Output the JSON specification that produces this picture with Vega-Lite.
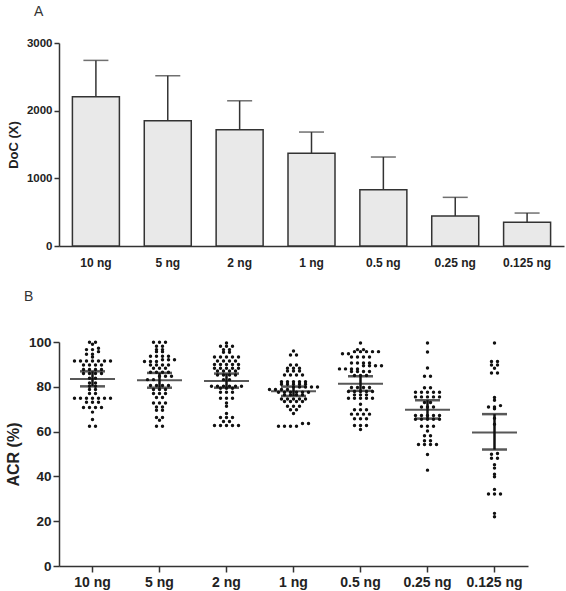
{
"$schema":"https://vega.github.io/schema/vega-lite/v6.json",
"background":"white",
"config":{"view":{"stroke":null},"axis":{"grid":false,"domainColor":"#333","domainWidth":1.5,"tickColor":"#333","tickWidth":1.5,"labelFont":"Liberation Sans","labelFontWeight":"bold","labelColor":"#222","titleFont":"Liberation Sans","titleColor":"#222","titleFontWeight":"bold"},"title":{"font":"Liberation Sans","fontWeight":"normal","color":"#333","fontSize":14,"anchor":"start","frame":"group"}},
"datasets":{
"doc":[
{"dose":"10 ng","mean":2205,"upper":2743},
{"dose":"5 ng","mean":1851,"upper":2516},
{"dose":"2 ng","mean":1718,"upper":2146},
{"dose":"1 ng","mean":1369,"upper":1684},
{"dose":"0.5 ng","mean":832,"upper":1315},
{"dose":"0.25 ng","mean":443,"upper":719},
{"dose":"0.125 ng","mean":350,"upper":487}
],
"summary":[
{"dose":"10 ng","mean":83.5,"lo":80.2,"hi":86.9},
{"dose":"5 ng","mean":82.9,"lo":79.6,"hi":86.2},
{"dose":"2 ng","mean":82.6,"lo":79.6,"hi":85.9},
{"dose":"1 ng","mean":78.0,"lo":75.9,"hi":80.1},
{"dose":"0.5 ng","mean":81.4,"lo":78.2,"hi":84.7},
{"dose":"0.25 ng","mean":69.8,"lo":65.8,"hi":74.0},
{"dose":"0.125 ng","mean":59.6,"lo":52.0,"hi":67.8}
],
"acr":[
{"dose":"10 ng","acr":99.9},{"dose":"10 ng","acr":99.9},{"dose":"10 ng","acr":99},{"dose":"10 ng","acr":97.2},{"dose":"10 ng","acr":96.6},{"dose":"10 ng","acr":96.6},{"dose":"10 ng","acr":95.7},{"dose":"10 ng","acr":94.5},{"dose":"10 ng","acr":94.5},{"dose":"10 ng","acr":93.3},
{"dose":"10 ng","acr":91.5},{"dose":"10 ng","acr":91.5},{"dose":"10 ng","acr":91.5},{"dose":"10 ng","acr":91.5},{"dose":"10 ng","acr":91.5},{"dose":"10 ng","acr":91.5},{"dose":"10 ng","acr":91.5},
{"dose":"10 ng","acr":89.7},{"dose":"10 ng","acr":89.7},{"dose":"10 ng","acr":89.7},{"dose":"10 ng","acr":89.7},
{"dose":"10 ng","acr":87.7},{"dose":"10 ng","acr":87.7},{"dose":"10 ng","acr":87.7},{"dose":"10 ng","acr":87.7},
{"dose":"10 ng","acr":85.9},{"dose":"10 ng","acr":85.9},{"dose":"10 ng","acr":85.9},{"dose":"10 ng","acr":85.9},
{"dose":"10 ng","acr":83.8},{"dose":"10 ng","acr":83.8},{"dose":"10 ng","acr":81.7},{"dose":"10 ng","acr":81.7},{"dose":"10 ng","acr":80.2},{"dose":"10 ng","acr":80.2},{"dose":"10 ng","acr":78.8},{"dose":"10 ng","acr":78.8},{"dose":"10 ng","acr":77},{"dose":"10 ng","acr":77},
{"dose":"10 ng","acr":74.9},{"dose":"10 ng","acr":74.9},{"dose":"10 ng","acr":74.9},{"dose":"10 ng","acr":74.9},{"dose":"10 ng","acr":74.9},{"dose":"10 ng","acr":74.9},{"dose":"10 ng","acr":74.9},
{"dose":"10 ng","acr":73.1},{"dose":"10 ng","acr":73.1},{"dose":"10 ng","acr":73.1},{"dose":"10 ng","acr":70.8},{"dose":"10 ng","acr":70.8},{"dose":"10 ng","acr":70.8},{"dose":"10 ng","acr":70.8},{"dose":"10 ng","acr":68.7},{"dose":"10 ng","acr":65.4},{"dose":"10 ng","acr":62.4},{"dose":"10 ng","acr":62.4},

{"dose":"5 ng","acr":99.9},{"dose":"5 ng","acr":99.9},{"dose":"5 ng","acr":99.9},{"dose":"5 ng","acr":98.1},{"dose":"5 ng","acr":98.1},{"dose":"5 ng","acr":96.6},{"dose":"5 ng","acr":96.6},{"dose":"5 ng","acr":95.7},{"dose":"5 ng","acr":95.7},
{"dose":"5 ng","acr":93.6},{"dose":"5 ng","acr":93.6},{"dose":"5 ng","acr":93.6},{"dose":"5 ng","acr":93.6},{"dose":"5 ng","acr":92.1},{"dose":"5 ng","acr":92.1},{"dose":"5 ng","acr":92.1},{"dose":"5 ng","acr":91.3},{"dose":"5 ng","acr":91.3},{"dose":"5 ng","acr":91.3},
{"dose":"5 ng","acr":89.7},{"dose":"5 ng","acr":89.7},{"dose":"5 ng","acr":89.7},{"dose":"5 ng","acr":89.7},{"dose":"5 ng","acr":88.3},{"dose":"5 ng","acr":88.3},{"dose":"5 ng","acr":88.3},
{"dose":"5 ng","acr":86.5},{"dose":"5 ng","acr":86.5},{"dose":"5 ng","acr":86.5},{"dose":"5 ng","acr":86.5},{"dose":"5 ng","acr":84.7},{"dose":"5 ng","acr":84.7},{"dose":"5 ng","acr":84.7},{"dose":"5 ng","acr":83.2},{"dose":"5 ng","acr":83.2},
{"dose":"5 ng","acr":80.6},{"dose":"5 ng","acr":80.6},{"dose":"5 ng","acr":80.6},{"dose":"5 ng","acr":80.6},{"dose":"5 ng","acr":78.8},{"dose":"5 ng","acr":78.8},{"dose":"5 ng","acr":78.8},{"dose":"5 ng","acr":77},{"dose":"5 ng","acr":77},{"dose":"5 ng","acr":77},
{"dose":"5 ng","acr":75.2},{"dose":"5 ng","acr":75.2},{"dose":"5 ng","acr":72.8},{"dose":"5 ng","acr":72.8},{"dose":"5 ng","acr":72.8},{"dose":"5 ng","acr":71},{"dose":"5 ng","acr":71},{"dose":"5 ng","acr":69.5},{"dose":"5 ng","acr":69.5},
{"dose":"5 ng","acr":66.3},{"dose":"5 ng","acr":66.3},{"dose":"5 ng","acr":65.1},{"dose":"5 ng","acr":62.4},{"dose":"5 ng","acr":62.4},

{"dose":"2 ng","acr":99.6},{"dose":"2 ng","acr":98.1},{"dose":"2 ng","acr":98.1},{"dose":"2 ng","acr":98.1},{"dose":"2 ng","acr":96.6},{"dose":"2 ng","acr":96.6},{"dose":"2 ng","acr":95.4},{"dose":"2 ng","acr":95.4},
{"dose":"2 ng","acr":93.3},{"dose":"2 ng","acr":93.3},{"dose":"2 ng","acr":93.3},{"dose":"2 ng","acr":93.3},{"dose":"2 ng","acr":93.3},
{"dose":"2 ng","acr":91.5},{"dose":"2 ng","acr":91.5},{"dose":"2 ng","acr":91.5},{"dose":"2 ng","acr":91.5},
{"dose":"2 ng","acr":90},{"dose":"2 ng","acr":90},{"dose":"2 ng","acr":90},{"dose":"2 ng","acr":90},{"dose":"2 ng","acr":90},
{"dose":"2 ng","acr":88.3},{"dose":"2 ng","acr":88.3},{"dose":"2 ng","acr":88.3},{"dose":"2 ng","acr":88.3},{"dose":"2 ng","acr":88.3},
{"dose":"2 ng","acr":87.1},{"dose":"2 ng","acr":87.1},{"dose":"2 ng","acr":87.1},{"dose":"2 ng","acr":87.1},
{"dose":"2 ng","acr":85.3},{"dose":"2 ng","acr":85.3},{"dose":"2 ng","acr":85.3},{"dose":"2 ng","acr":85.3},{"dose":"2 ng","acr":83.2},{"dose":"2 ng","acr":83.2},
{"dose":"2 ng","acr":80.2},{"dose":"2 ng","acr":80.2},{"dose":"2 ng","acr":80.2},{"dose":"2 ng","acr":80.2},{"dose":"2 ng","acr":80.2},{"dose":"2 ng","acr":80.2},
{"dose":"2 ng","acr":79.4},{"dose":"2 ng","acr":79.4},{"dose":"2 ng","acr":79.4},{"dose":"2 ng","acr":77.6},{"dose":"2 ng","acr":77.6},{"dose":"2 ng","acr":77.6},
{"dose":"2 ng","acr":74.9},{"dose":"2 ng","acr":74.9},{"dose":"2 ng","acr":74.9},{"dose":"2 ng","acr":72.8},{"dose":"2 ng","acr":71.3},{"dose":"2 ng","acr":68.1},
{"dose":"2 ng","acr":66.3},{"dose":"2 ng","acr":66.3},{"dose":"2 ng","acr":66.3},{"dose":"2 ng","acr":64.5},{"dose":"2 ng","acr":64.5},
{"dose":"2 ng","acr":62.7},{"dose":"2 ng","acr":62.7},{"dose":"2 ng","acr":62.7},{"dose":"2 ng","acr":62.7},{"dose":"2 ng","acr":62.7},

{"dose":"1 ng","acr":96},{"dose":"1 ng","acr":94.2},{"dose":"1 ng","acr":94.2},{"dose":"1 ng","acr":89.7},{"dose":"1 ng","acr":89.7},
{"dose":"1 ng","acr":88.3},{"dose":"1 ng","acr":88.3},{"dose":"1 ng","acr":88.3},{"dose":"1 ng","acr":87.1},{"dose":"1 ng","acr":87.1},{"dose":"1 ng","acr":87.1},
{"dose":"1 ng","acr":85.3},{"dose":"1 ng","acr":85.3},{"dose":"1 ng","acr":85.3},{"dose":"1 ng","acr":85.3},
{"dose":"1 ng","acr":82.3},{"dose":"1 ng","acr":82.3},{"dose":"1 ng","acr":82.3},{"dose":"1 ng","acr":82.3},{"dose":"1 ng","acr":82.3},
{"dose":"1 ng","acr":81.1},{"dose":"1 ng","acr":81.1},{"dose":"1 ng","acr":81.1},{"dose":"1 ng","acr":81.1},{"dose":"1 ng","acr":81.1},
{"dose":"1 ng","acr":79.9},{"dose":"1 ng","acr":79.9},{"dose":"1 ng","acr":79.9},{"dose":"1 ng","acr":79.9},{"dose":"1 ng","acr":79.9},
{"dose":"1 ng","acr":78.8},{"dose":"1 ng","acr":78.8},{"dose":"1 ng","acr":78.8},{"dose":"1 ng","acr":78.8},
{"dose":"1 ng","acr":77.6},{"dose":"1 ng","acr":77.6},{"dose":"1 ng","acr":77.6},{"dose":"1 ng","acr":77.6},{"dose":"1 ng","acr":77.6},{"dose":"1 ng","acr":77.6},
{"dose":"1 ng","acr":76.4},{"dose":"1 ng","acr":76.4},{"dose":"1 ng","acr":76.4},{"dose":"1 ng","acr":76.4},
{"dose":"1 ng","acr":74.6},{"dose":"1 ng","acr":74.6},{"dose":"1 ng","acr":74.6},{"dose":"1 ng","acr":74.6},{"dose":"1 ng","acr":74.6},
{"dose":"1 ng","acr":73.4},{"dose":"1 ng","acr":73.4},{"dose":"1 ng","acr":73.4},{"dose":"1 ng","acr":73.4},
{"dose":"1 ng","acr":71.3},{"dose":"1 ng","acr":71.3},{"dose":"1 ng","acr":71.3},{"dose":"1 ng","acr":69.8},{"dose":"1 ng","acr":69.8},{"dose":"1 ng","acr":68.1},
{"dose":"1 ng","acr":63.6},{"dose":"1 ng","acr":63.6},{"dose":"1 ng","acr":62.4},{"dose":"1 ng","acr":62.4},{"dose":"1 ng","acr":62.4},{"dose":"1 ng","acr":62.4},

{"dose":"0.5 ng","acr":99.6},{"dose":"0.5 ng","acr":96.6},{"dose":"0.5 ng","acr":96.6},
{"dose":"0.5 ng","acr":95.7},{"dose":"0.5 ng","acr":95.7},{"dose":"0.5 ng","acr":95.7},{"dose":"0.5 ng","acr":95.7},{"dose":"0.5 ng","acr":95.7},
{"dose":"0.5 ng","acr":94.8},{"dose":"0.5 ng","acr":94.8},{"dose":"0.5 ng","acr":93.3},{"dose":"0.5 ng","acr":93.3},{"dose":"0.5 ng","acr":93.3},{"dose":"0.5 ng","acr":93.3},
{"dose":"0.5 ng","acr":90.6},{"dose":"0.5 ng","acr":90.6},{"dose":"0.5 ng","acr":90.6},{"dose":"0.5 ng","acr":90.6},
{"dose":"0.5 ng","acr":89.4},{"dose":"0.5 ng","acr":89.4},{"dose":"0.5 ng","acr":89.4},{"dose":"0.5 ng","acr":89.4},
{"dose":"0.5 ng","acr":88},{"dose":"0.5 ng","acr":88},{"dose":"0.5 ng","acr":88},{"dose":"0.5 ng","acr":88},
{"dose":"0.5 ng","acr":86.8},{"dose":"0.5 ng","acr":86.8},{"dose":"0.5 ng","acr":86.8},{"dose":"0.5 ng","acr":86.8},
{"dose":"0.5 ng","acr":85},{"dose":"0.5 ng","acr":85},{"dose":"0.5 ng","acr":85},
{"dose":"0.5 ng","acr":79.7},{"dose":"0.5 ng","acr":79.7},{"dose":"0.5 ng","acr":79.7},{"dose":"0.5 ng","acr":79.7},
{"dose":"0.5 ng","acr":77.9},{"dose":"0.5 ng","acr":77.9},{"dose":"0.5 ng","acr":77.9},{"dose":"0.5 ng","acr":77.9},{"dose":"0.5 ng","acr":77.9},
{"dose":"0.5 ng","acr":76.4},{"dose":"0.5 ng","acr":76.4},{"dose":"0.5 ng","acr":76.4},
{"dose":"0.5 ng","acr":74.9},{"dose":"0.5 ng","acr":74.9},{"dose":"0.5 ng","acr":74.9},{"dose":"0.5 ng","acr":74.9},{"dose":"0.5 ng","acr":74.9},
{"dose":"0.5 ng","acr":72.2},{"dose":"0.5 ng","acr":69.8},{"dose":"0.5 ng","acr":69.8},{"dose":"0.5 ng","acr":69.8},
{"dose":"0.5 ng","acr":67.8},{"dose":"0.5 ng","acr":67.8},{"dose":"0.5 ng","acr":67.8},{"dose":"0.5 ng","acr":67.8},
{"dose":"0.5 ng","acr":65.7},{"dose":"0.5 ng","acr":65.7},{"dose":"0.5 ng","acr":65.7},{"dose":"0.5 ng","acr":62.7},{"dose":"0.5 ng","acr":62.7},{"dose":"0.5 ng","acr":62.7},{"dose":"0.5 ng","acr":60.9},

{"dose":"0.25 ng","acr":99.6},{"dose":"0.25 ng","acr":95.5},{"dose":"0.25 ng","acr":88.4},{"dose":"0.25 ng","acr":84.7},{"dose":"0.25 ng","acr":84.7},{"dose":"0.25 ng","acr":79.6},{"dose":"0.25 ng","acr":79.6},
{"dose":"0.25 ng","acr":77.6},{"dose":"0.25 ng","acr":77.6},{"dose":"0.25 ng","acr":77.6},{"dose":"0.25 ng","acr":77.6},{"dose":"0.25 ng","acr":77.6},
{"dose":"0.25 ng","acr":75.5},{"dose":"0.25 ng","acr":75.5},{"dose":"0.25 ng","acr":75.5},{"dose":"0.25 ng","acr":75.5},{"dose":"0.25 ng","acr":75.5},
{"dose":"0.25 ng","acr":73},{"dose":"0.25 ng","acr":73},{"dose":"0.25 ng","acr":71},{"dose":"0.25 ng","acr":71},{"dose":"0.25 ng","acr":71},
{"dose":"0.25 ng","acr":67.2},{"dose":"0.25 ng","acr":67.2},{"dose":"0.25 ng","acr":67.2},{"dose":"0.25 ng","acr":67.2},{"dose":"0.25 ng","acr":67.2},
{"dose":"0.25 ng","acr":65.5},{"dose":"0.25 ng","acr":65.5},{"dose":"0.25 ng","acr":65.5},{"dose":"0.25 ng","acr":65.5},{"dose":"0.25 ng","acr":65.5},
{"dose":"0.25 ng","acr":62.4},{"dose":"0.25 ng","acr":62.4},{"dose":"0.25 ng","acr":62.4},{"dose":"0.25 ng","acr":60.3},{"dose":"0.25 ng","acr":58.1},{"dose":"0.25 ng","acr":58.1},
{"dose":"0.25 ng","acr":55.9},{"dose":"0.25 ng","acr":55.9},{"dose":"0.25 ng","acr":54.2},{"dose":"0.25 ng","acr":54.2},{"dose":"0.25 ng","acr":54.2},{"dose":"0.25 ng","acr":54.2},
{"dose":"0.25 ng","acr":49.8},{"dose":"0.25 ng","acr":42.8},

{"dose":"0.125 ng","acr":99.6},{"dose":"0.125 ng","acr":91.3},{"dose":"0.125 ng","acr":91.3},{"dose":"0.125 ng","acr":89.7},{"dose":"0.125 ng","acr":89.7},{"dose":"0.125 ng","acr":88.3},
{"dose":"0.125 ng","acr":86.2},{"dose":"0.125 ng","acr":86.2},{"dose":"0.125 ng","acr":75.2},{"dose":"0.125 ng","acr":74},{"dose":"0.125 ng","acr":71.6},{"dose":"0.125 ng","acr":71},{"dose":"0.125 ng","acr":71},
{"dose":"0.125 ng","acr":70.2},{"dose":"0.125 ng","acr":66},{"dose":"0.125 ng","acr":63.3},{"dose":"0.125 ng","acr":50.2},{"dose":"0.125 ng","acr":49.9},{"dose":"0.125 ng","acr":48.1},{"dose":"0.125 ng","acr":48.1},
{"dose":"0.125 ng","acr":45.2},{"dose":"0.125 ng","acr":43.7},{"dose":"0.125 ng","acr":41},{"dose":"0.125 ng","acr":39.8},{"dose":"0.125 ng","acr":34.2},
{"dose":"0.125 ng","acr":32.1},{"dose":"0.125 ng","acr":32.1},{"dose":"0.125 ng","acr":32.1},{"dose":"0.125 ng","acr":23.5},{"dose":"0.125 ng","acr":22}
]
},
"spacing":22,
"vconcat":[
{
"title":{"text":"A","dx":-25,"offset":18},
"width":505,"height":203,
"data":{"name":"doc"},
"encoding":{"x":{"field":"dose","type":"nominal","sort":null,"scale":{"type":"band","domain":["10 ng","5 ng","2 ng","1 ng","0.5 ng","0.25 ng","0.125 ng"],"paddingInner":0.333,"paddingOuter":0.18},"axis":{"title":null,"labelAngle":0,"labelFontSize":12,"tickSize":-5,"labelPadding":16}}},
"layer":[
{"mark":{"type":"rule","stroke":"#333","strokeWidth":1.5},"encoding":{"y":{"field":"mean","type":"quantitative"},"y2":{"field":"upper"}}},
{"mark":{"type":"tick","color":"#333","size":25,"thickness":1.5},"encoding":{"y":{"field":"upper","type":"quantitative"}}},
{"mark":{"type":"bar","fill":"#e9e9e9","stroke":"#333","strokeWidth":1.5,"width":47},"encoding":{"y":{"field":"mean","type":"quantitative","scale":{"domain":[0,3000],"nice":false},"axis":{"title":"DoC (X)","values":[0,1000,2000,3000],"format":"d","labelFontSize":11.5,"tickSize":5,"labelPadding":2,"titleFontSize":13,"titlePadding":6}}}}
]
},
{
"title":{"text":"B","dx":-35,"offset":31},
"width":469,"height":224,
"encoding":{"x":{"field":"dose","type":"nominal","sort":null,"scale":{"type":"band","domain":["10 ng","5 ng","2 ng","1 ng","0.5 ng","0.25 ng","0.125 ng"],"paddingInner":0,"paddingOuter":0},"axis":{"title":null,"labelAngle":0,"labelFontSize":14,"tickSize":6,"labelPadding":3}}},
"layer":[
{"data":{"name":"acr"},
"transform":[
{"bin":{"step":1.6},"field":"acr","as":"vb"},
{"window":[{"op":"row_number","as":"rk"}],"groupby":["dose","vb"],"sort":[{"field":"acr"}]},
{"joinaggregate":[{"op":"count","as":"n"}],"groupby":["dose","vb"]},
{"calculate":"datum.rk - (datum.n + 1) / 2","as":"off"}
],
"mark":{"type":"point","filled":true,"color":"#111","size":12,"opacity":1},
"encoding":{"y":{"field":"acr","type":"quantitative","scale":{"domain":[0,100],"nice":false},"axis":{"title":"ACR (%)","values":[0,20,40,60,80,100],"labelFontSize":13.5,"tickSize":6,"labelPadding":2,"titleFontSize":16,"titlePadding":7}},
"xOffset":{"field":"off","type":"quantitative","scale":{"domain":[-5.58,5.58]}}}},
{"data":{"name":"summary"},"mark":{"type":"rule","stroke":"#111","strokeWidth":2.5},"encoding":{"y":{"field":"lo","type":"quantitative"},"y2":{"field":"hi"}}},
{"data":{"name":"summary"},"mark":{"type":"tick","color":"#111","size":25,"thickness":2.5},"encoding":{"y":{"field":"lo","type":"quantitative"}}},
{"data":{"name":"summary"},"mark":{"type":"tick","color":"#111","size":25,"thickness":2.5},"encoding":{"y":{"field":"hi","type":"quantitative"}}},
{"data":{"name":"summary"},"mark":{"type":"tick","color":"#111","size":45,"thickness":2},"encoding":{"y":{"field":"mean","type":"quantitative"}}}
]
}
]
}
